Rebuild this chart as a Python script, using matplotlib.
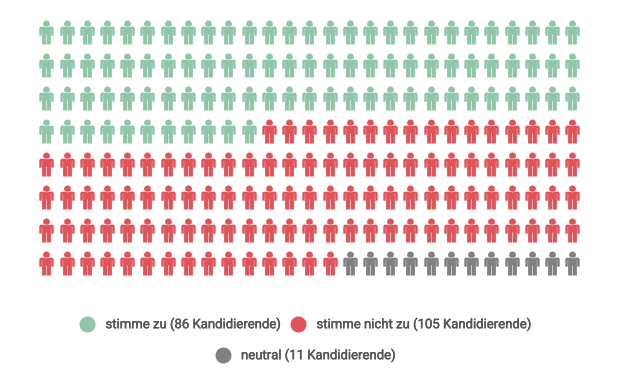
import matplotlib
matplotlib.use("Agg")
import matplotlib.pyplot as plt
import matplotlib.patheffects as pe
import numpy as np
from matplotlib.path import Path

# icons actually drawn per group (the picture has 216 icons, not 202)
labels = ["stimme zu (86 Kandidierende)", "stimme nicht zu (105 Kandidierende)", "neutral (11 Kandidierende)"]
icon_counts = [92, 112, 12]
colors = ["#8fc5a8", "#df5359", "#808080"]

n_cols = 27
x_first, x_step = 46.3, 20.23
y_first, y_step = 32.0, 33.0

legend_dots_x = [87, 298, 223]
legend_dots_y = [324, 324, 355]
legend_text_x = [105.5, 316.5, 241]


def person_path():
    # coordinates in px around the icon centre, y up
    head = Path.circle((0, 8.6), 3.4)
    arm_l = Path([(-7.2, 4.6), (-6, 5.8), (-4.7, 5.8), (-4.7, -3.2), (-7.2, -3.2), (-7.2, 4.6)], closed=True)
    arm_r = Path([(4.7, 5.8), (6, 5.8), (7.2, 4.6), (7.2, -3.2), (4.7, -3.2), (4.7, 5.8)], closed=True)
    body = Path([(-5, 5.8), (5, 5.8), (5, 4), (4.4, 4), (4.4, -12), (0.3, -12), (0.3, -2),
                 (-0.3, -2), (-0.3, -12), (-4.4, -12), (-4.4, 4), (-5, 4), (-5, 5.8)], closed=True)
    return Path.make_compound_path(head, arm_l, arm_r, body)


def main():
    plt.rcParams["font.family"] = ["Roboto", "DejaVu Sans"]
    fig = plt.figure(figsize=(6.2, 3.81), dpi=100)
    ax = fig.add_axes([0, 0, 1, 1])
    ax.set_xlim(0, 620)
    ax.set_ylim(381, 0)
    ax.axis("off")

    marker = person_path()
    size = (24 * 72 / 100) ** 2
    group = np.repeat(np.arange(len(icon_counts)), icon_counts)
    idx = np.arange(len(group))
    xs = x_first + (idx % n_cols) * x_step
    ys = y_first + (idx // n_cols) * y_step
    for g, c in enumerate(colors):
        m = group == g
        ax.scatter(xs[m], ys[m], marker=marker, s=size, color=c, linewidths=0)

    # Roboto has no medium weight here, a thin stroke stands in for it
    medium = [pe.withStroke(linewidth=0.3, foreground="#555555")]
    for lab, c, dx, dy, tx in zip(labels, colors, legend_dots_x, legend_dots_y, legend_text_x):
        ax.scatter([dx], [dy], s=(16 * 72 / 100) ** 2, color=c, linewidths=0)
        ax.text(tx, dy + 0.5, lab, fontsize=9.45, color="#555555", va="center", ha="left", path_effects=medium)

    fig.savefig("out.png", dpi=100)
    plt.close(fig)


if __name__ == "__main__":
    main()
